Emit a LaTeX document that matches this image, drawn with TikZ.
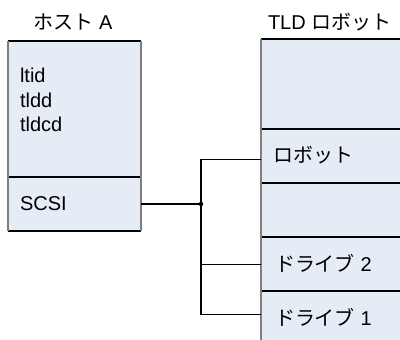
\documentclass[tikz,border=0pt]{standalone}
\usepackage{fontspec}
\setmainfont{Liberation Sans}
\newfontfamily\jp{Noto Sans CJK JP}
\definecolor{cellfill}{HTML}{E5ECF6}
\definecolor{edgegray}{HTML}{7F7F7F}
\tikzset{
  lbl/.style={font=\fontsize{20}{24.5}\selectfont, inner sep=0pt, outer sep=0pt, align=left},
  cellbox/.style={fill=cellfill, draw=none, inner sep=0pt, outer sep=0pt},
  hline/.style={draw=black, line width=1.2pt},
  gedge/.style={draw=edgegray, line width=2pt},
  wire/.style={draw=black, line width=1.3pt},
}
\begin{document}
\begin{tikzpicture}[x=1pt,y=-1pt]
\useasboundingbox (0,0) rectangle (400,340);
% host box
\node[cellbox, minimum width=133pt, minimum height=136pt] (hosttop) at (74.5,109) {};
\node[cellbox, minimum width=133pt, minimum height=54pt] (scsi) at (74.5,204) {};
\draw[hline] (hosttop.north west) -- (hosttop.north east);
\draw[hline] (scsi.north west) -- (scsi.north east);
\draw[hline] (scsi.south west) -- (scsi.south east);
\draw[gedge] (hosttop.north west) -- (scsi.south west);
\draw[gedge] (hosttop.north east) -- (scsi.south east);
% robot column
\node[cellbox, minimum width=141pt, minimum height=90pt] (rtop) at (331.5,84) {};
\node[cellbox, minimum width=141pt, minimum height=54pt] (rrob) at (331.5,156) {};
\node[cellbox, minimum width=141pt, minimum height=54pt] (rempty) at (331.5,210) {};
\node[cellbox, minimum width=141pt, minimum height=54pt] (rd2) at (331.5,264) {};
\node[cellbox, minimum width=141pt, minimum height=54pt] (rd1) at (331.5,318) {};
\foreach \c in {rtop,rrob,rempty,rd2,rd1} {\draw[hline] (\c.north west) -- (\c.north east);}
\draw[gedge] (rtop.north west) -- (rd1.south west);
% titles
\node[lbl, anchor=center] (hostA) at (73,22) {{\jp ホスト} A};
\node[lbl, anchor=west] (tld) at (268,22) {TLD {\jp ロボット}};
% texts
\node[lbl, anchor=base west] (prog) at (20,131.5) {ltid\\tldd\\tldcd};
\node[lbl, anchor=base west] (scsit) at (20,210) {SCSI};
\node[lbl, anchor=west] (robt) at (273,155) {\jp ロボット};
\node[lbl, anchor=west] (d2t) at (275,263) {{\jp ドライブ} 2};
\node[lbl, anchor=west] (d1t) at (275,317) {{\jp ドライブ} 1};
% connectors
\coordinate (j) at (201,204);
\coordinate (rin) at (261,159.5);
\coordinate (d2in) at (261,264.5);
\coordinate (d1in) at (261,314.5);
\draw[wire] (scsi.east) -- (j);
\draw[wire] (rin) -| (j);
\draw[wire] (j) |- (d1in);
\draw[wire] (d2in) -- (d2in -| j);
\fill (j) circle (2.2pt);
\end{tikzpicture}
\end{document}
